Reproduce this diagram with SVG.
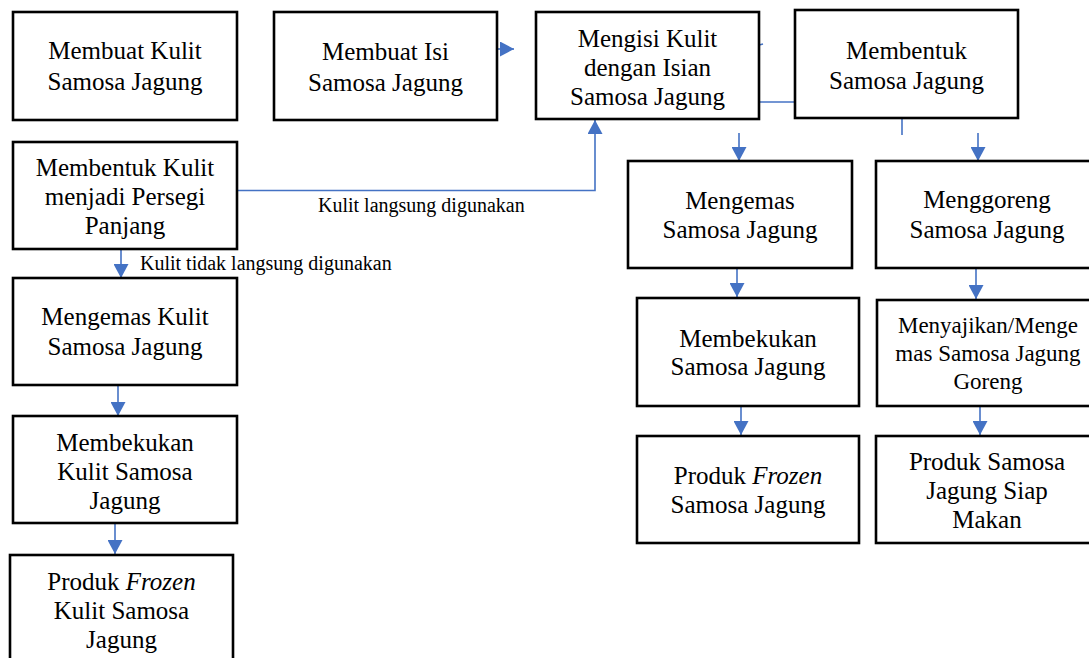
<svg xmlns="http://www.w3.org/2000/svg" width="1089" height="658" viewBox="0 0 1089 658">
<style>
.box{fill:#fff;stroke:#000;stroke-width:2.6}
.t{font-family:"Liberation Serif","Times New Roman",serif;font-size:25px;fill:#000;text-anchor:middle}
.ts{font-size:23px}
.lbl{font-family:"Liberation Serif","Times New Roman",serif;font-size:20px;fill:#000}
.c{fill:none;stroke:#4472C4;stroke-width:1.6}
</style>
<defs>
<marker id="ah" viewBox="0 0 14 15" markerWidth="14" markerHeight="15" markerUnits="userSpaceOnUse" refX="14" refY="7.5" orient="auto">
<path d="M0,0 L14,7.5 L0,15 z" fill="#4472C4"/>
</marker>
</defs>
<rect width="1089" height="658" fill="#fff"/>
<g id="connectors">
<path class="c" d="M497,49 L514,49" marker-end="url(#ah)"/>
<path class="c" d="M759,45 L763,44"/>
<path class="c" d="M759,102 L795,102"/>
<path class="c" d="M237,190.5 L595,190.5 L595,120" marker-end="url(#ah)"/>
<path class="c" d="M121,249 L121,278" marker-end="url(#ah)"/>
<path class="c" d="M118,386 L118,416" marker-end="url(#ah)"/>
<path class="c" d="M115,524 L115,554" marker-end="url(#ah)"/>
<path class="c" d="M739,133 L739,161" marker-end="url(#ah)"/>
<path class="c" d="M902,118 L902,135"/>
<path class="c" d="M978,133 L978,161" marker-end="url(#ah)"/>
<path class="c" d="M737,268 L737,297" marker-end="url(#ah)"/>
<path class="c" d="M976,268 L976,299" marker-end="url(#ah)"/>
<path class="c" d="M741,406 L741,435" marker-end="url(#ah)"/>
<path class="c" d="M980,406 L980,435" marker-end="url(#ah)"/>
<text class="lbl" x="318" y="212">Kulit langsung digunakan</text>
<text class="lbl" x="140" y="270">Kulit tidak langsung digunakan</text>
</g>
<g id="membuat-kulit">
<rect class="box" x="13" y="12" width="224" height="108"/>
<text class="t" x="125" y="59">Membuat Kulit</text>
<text class="t" x="125" y="90">Samosa Jagung</text>
</g>
<g id="membuat-isi">
<rect class="box" x="274" y="12" width="223" height="108"/>
<text class="t" x="385.5" y="60">Membuat Isi</text>
<text class="t" x="385.5" y="91">Samosa Jagung</text>
</g>
<g id="mengisi-kulit">
<rect class="box" x="536" y="12" width="223" height="107"/>
<text class="t" x="647.5" y="47">Mengisi Kulit</text>
<text class="t" x="647.5" y="76">dengan Isian</text>
<text class="t" x="647.5" y="105">Samosa Jagung</text>
</g>
<g id="membentuk-samosa">
<rect class="box" x="795" y="10" width="223" height="108"/>
<text class="t" x="906.5" y="59">Membentuk</text>
<text class="t" x="906.5" y="89">Samosa Jagung</text>
</g>
<g id="membentuk-kulit">
<rect class="box" x="13" y="142" width="224" height="107"/>
<text class="t" x="125" y="176">Membentuk Kulit</text>
<text class="t" x="125" y="205">menjadi Persegi</text>
<text class="t" x="125" y="234">Panjang</text>
</g>
<g id="mengemas-kulit">
<rect class="box" x="13" y="278" width="224" height="107"/>
<text class="t" x="125" y="325">Mengemas Kulit</text>
<text class="t" x="125" y="355">Samosa Jagung</text>
</g>
<g id="membekukan-kulit">
<rect class="box" x="13" y="416" width="224" height="107"/>
<text class="t" x="125" y="451">Membekukan</text>
<text class="t" x="125" y="480">Kulit Samosa</text>
<text class="t" x="125" y="509">Jagung</text>
</g>
<g id="produk-frozen-kulit">
<rect class="box" x="10" y="555" width="223" height="112"/>
<text class="t" x="121.5" y="590">Produk <tspan font-style="italic">Frozen</tspan></text>
<text class="t" x="121.5" y="619">Kulit Samosa</text>
<text class="t" x="121.5" y="648">Jagung</text>
</g>
<g id="mengemas-samosa">
<rect class="box" x="628" y="161" width="224" height="107"/>
<text class="t" x="740" y="209">Mengemas</text>
<text class="t" x="740" y="238">Samosa Jagung</text>
</g>
<g id="menggoreng">
<rect class="box" x="876" y="161" width="223" height="107"/>
<text class="t" x="987" y="208">Menggoreng</text>
<text class="t" x="987" y="238">Samosa Jagung</text>
</g>
<g id="membekukan-samosa">
<rect class="box" x="637" y="298" width="222" height="108"/>
<text class="t" x="748" y="347">Membekukan</text>
<text class="t" x="748" y="375">Samosa Jagung</text>
</g>
<g id="menyajikan">
<rect class="box" x="877" y="300" width="222" height="106"/>
<text class="t ts" x="988" y="333">Menyajikan/Menge</text>
<text class="t ts" x="988" y="361">mas Samosa Jagung</text>
<text class="t ts" x="988" y="389">Goreng</text>
</g>
<g id="produk-frozen-samosa">
<rect class="box" x="637" y="436" width="222" height="107"/>
<text class="t" x="748" y="484">Produk <tspan font-style="italic">Frozen</tspan></text>
<text class="t" x="748" y="513">Samosa Jagung</text>
</g>
<g id="produk-siap-makan">
<rect class="box" x="876" y="436" width="223" height="107"/>
<text class="t" x="987" y="470">Produk Samosa</text>
<text class="t" x="987" y="499">Jagung Siap</text>
<text class="t" x="987" y="528">Makan</text>
</g>
</svg>
